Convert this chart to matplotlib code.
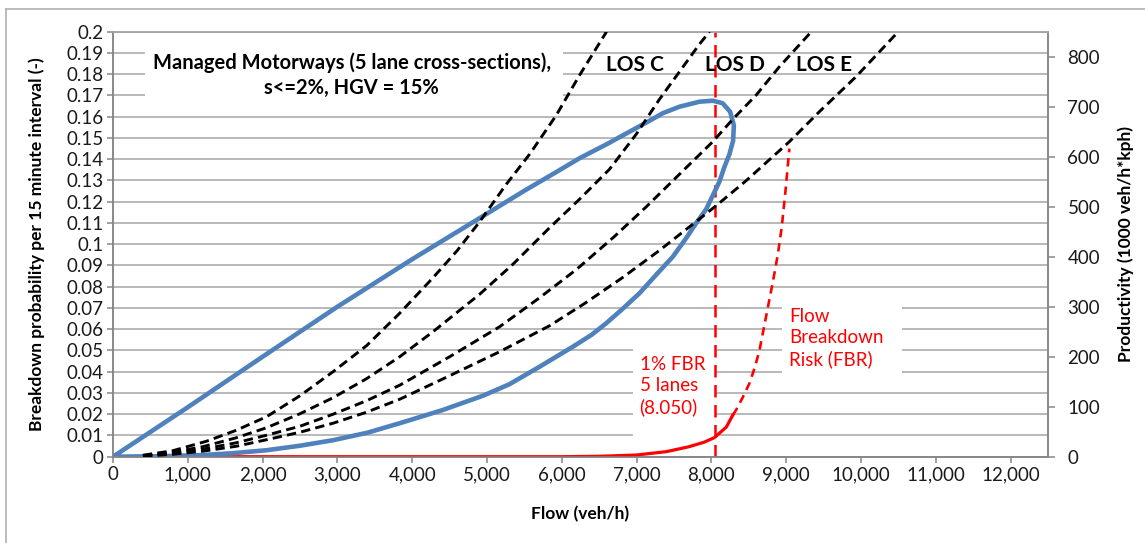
import matplotlib
matplotlib.use('Agg')
import matplotlib.pyplot as plt
from matplotlib.patches import Rectangle
from matplotlib.lines import Line2D

plt.rcParams['font.family'] = ['Lato', 'DejaVu Sans']

# Blue loop: productivity (1000 veh/h*kph) vs flow (veh/h)
loop_flow = [0, 1000, 2000, 3000, 4000, 4900, 5500, 5900, 6237, 6600, 6905, 7150, 7350,
             7573, 7840, 8018, 8150, 8250, 8300, 8290, 8241, 8170, 8107, 7930, 7795,
             7662, 7484, 7250, 7039, 6800, 6594, 6400, 6148, 5703, 5300, 4946, 4400,
             3833, 3400, 2942, 2500, 2053, 1600, 1162, 600, 0]
loop_prod = [0, 99, 200, 300, 395, 477, 532, 567, 597, 625, 650, 670, 687,
             700, 710, 712, 707, 690, 663, 632, 605, 578, 550, 495, 467,
             437, 400, 362, 327, 294, 267, 244, 220, 180, 145, 122, 93,
             67, 48, 33, 22, 13, 7, 3, 1, 0]

# LOS boundary curves (black dashed), productivity vs flow
los1_flow = [400, 800, 1251, 1650, 2053, 2500, 2942, 3389, 3833, 4278, 4600, 4902,
             5258, 5570, 5926, 6237, 6598]
los1_prod = [3, 12, 31, 53, 80, 122, 170, 222, 287, 358, 412, 470,
             545, 605, 683, 763, 850]
los2_flow = [400, 800, 1200, 1650, 2053, 2500, 2942, 3389, 3833, 4278, 4902, 5347,
             5837, 6237, 6638, 6995, 7306, 7573, 7840, 7974]
los2_prod = [2, 9, 20, 38, 58, 86, 118, 156, 200, 250, 325, 385,
             458, 515, 575, 645, 715, 770, 825, 850]
los3_flow = [400, 800, 1200, 1650, 2053, 2500, 2942, 3389, 3833, 4501, 5169, 5703,
             6200, 6700, 7130, 7573, 8018, 8286, 8597, 8909, 9336]
los3_prod = [2, 7, 15, 28, 43, 61, 85, 112, 143, 200, 260, 318,
             375, 440, 500, 565, 630, 675, 723, 780, 850]
los4_flow = [400, 800, 1200, 1650, 2053, 2500, 2942, 3389, 3833, 4501, 5169, 5837,
             6300, 6800, 7300, 7751, 8063, 8464, 9042, 9443, 9933, 10498]
los4_prod = [1, 5, 11, 21, 34, 49, 67, 89, 115, 162, 210, 262,
             306, 357, 412, 465, 502, 552, 630, 690, 760, 850]

# Flow breakdown risk (red), probability per 15 minute interval
fbr_flow = [1100, 2000, 3000, 4000, 5000, 6000, 6500, 7000, 7400, 7700, 7900, 8041, 8200, 8286]
fbr_prob = [0, 0, 0, 0, 0, 0, 0.0002, 0.0008, 0.0024, 0.0047, 0.0068, 0.009, 0.014, 0.0196]
fbr_ext_flow = [8286, 8330, 8420, 8508, 8580, 8642, 8731, 8820, 8887, 8940, 8990, 9042]
fbr_ext_prob = [0.0196, 0.022, 0.028, 0.0345, 0.042, 0.05, 0.066, 0.082, 0.095, 0.108, 0.125, 0.145]
fbr_1pct_flow = 8050

flow_ticks = [0, 1000, 2000, 3000, 4000, 5000, 6000, 7000, 8000, 9000, 10000, 11000, 12000]
flow_labels = ['0', '1,000', '2,000', '3,000', '4,000', '5,000', '6,000', '7,000',
               '8,000', '9,000', '10,000', '11,000', '12,000']
prob_ticks = [0, 0.01, 0.02, 0.03, 0.04, 0.05, 0.06, 0.07, 0.08, 0.09, 0.1,
              0.11, 0.12, 0.13, 0.14, 0.15, 0.16, 0.17, 0.18, 0.19, 0.2]
prob_labels = ['0', '0.01', '0.02', '0.03', '0.04', '0.05', '0.06', '0.07', '0.08', '0.09',
               '0.1', '0.11', '0.12', '0.13', '0.14', '0.15', '0.16', '0.17', '0.18',
               '0.19', '0.2']
prod_ticks = [0, 100, 200, 300, 400, 500, 600, 700, 800]

grid_c = '#a6a6a6'
axis_c = '#868686'
text_c = '#1a1a1a'
blue = '#4f81bd'
red = '#ff0000'

fig = plt.figure(figsize=(11.45, 5.43), dpi=100)
ax = fig.add_axes([0.0987, 0.1589, 0.8166, 0.7827])
ax2 = ax.twinx()

ax.set_xlim(0, 12500)
ax.set_ylim(0, 0.2)
ax2.set_ylim(0, 850)

ax.set_yticks(prob_ticks)
ax.set_yticklabels(prob_labels)
ax.set_xticks(flow_ticks)
ax.set_xticklabels(flow_labels)
ax2.set_yticks(prod_ticks)

ax.grid(axis='y', color=grid_c, linewidth=1.1, zorder=0)
ax.set_axisbelow(True)

for a in (ax, ax2):
    for s in a.spines.values():
        s.set_color(axis_c)
        s.set_linewidth(1.1)
    a.spines['top'].set_color(grid_c)
ax.tick_params(axis='both', direction='out', length=4, color=axis_c, width=1.1,
               labelsize=13.5, labelcolor=text_c, pad=3)
ax2.tick_params(axis='y', direction='out', length=5, color=axis_c, width=1.1,
                labelsize=13.5, labelcolor=text_c, pad=9)

# white boxes behind annotations (hide the gridlines as in the original)
for x0, x1, y0, y1 in [(427, 6010, 0.1655, 0.1948),
                       (6945, 8045, 0.0055, 0.0545),
                       (8949, 10552, 0.0355, 0.0745)]:
    ax.add_patch(Rectangle((x0, y0), x1 - x0, y1 - y0, facecolor='white',
                           edgecolor='none', zorder=1))

# red breakdown risk
ax.plot(fbr_flow, fbr_prob, color=red, linewidth=2.3, zorder=3)
ax.plot(fbr_ext_flow, fbr_ext_prob, color=red, linewidth=1.9, dashes=(3.2, 2.2), zorder=3)
ax.axvline(fbr_1pct_flow, color=red, linewidth=1.8, dashes=(5, 3), zorder=3)

# productivity curves
ax2.plot(loop_flow, loop_prod, color=blue, linewidth=3.3, solid_joinstyle='round', zorder=2)
for fx, fy in [(los1_flow, los1_prod), (los2_flow, los2_prod),
               (los3_flow, los3_prod), (los4_flow, los4_prod)]:
    ax2.plot(fx, fy, color='black', linewidth=2.1, dashes=(3.2, 1.8), zorder=3)

ax.text(3192, 0.1795, 'Managed Motorways (5 lane cross-sections),\ns<=2%, HGV = 15%',
        ha='center', va='center', fontsize=14.5, fontweight='bold', color='black',
        linespacing=1.3, zorder=4)
for lx, lab in [(6972, 'LOS C'), (8308, 'LOS D'), (9510, 'LOS E')]:
    ax.text(lx, 0.1843, lab, ha='center', va='center', fontsize=15,
            fontweight='bold', color='black', zorder=4)
ax.text(7039, 0.0333, '1% FBR\n5 lanes\n(8.050)', ha='left', va='center',
        fontsize=13.5, color=red, linespacing=1.3, zorder=2)
ax.text(9042, 0.0559, 'Flow\nBreakdown\nRisk (FBR)', ha='left', va='center',
        fontsize=13.5, color=red, linespacing=1.3, zorder=2)

ax.set_xlabel('Flow (veh/h)', fontsize=12.5, fontweight='bold', color='black')
ax.set_ylabel('Breakdown probability per 15 minute interval (-)', fontsize=12.5,
              fontweight='bold', color='black')
ax2.set_ylabel('Productivity (1000 veh/h*kph)', fontsize=12.5, fontweight='bold',
               color='black')
ax.xaxis.set_label_coords(0.5, -0.117)
ax.yaxis.set_label_coords(-0.0727, 0.5)
ax2.yaxis.set_label_coords(1.0738, 0.5)

# chart area border (left and top edges visible in the original)
fig.add_artist(Line2D([6 / 1145, 6 / 1145], [0, 1 - 9 / 543], color='#b0b0b0', linewidth=1.2))
fig.add_artist(Line2D([6 / 1145, 1], [1 - 9 / 543, 1 - 9 / 543], color='#b0b0b0', linewidth=1.2))

fig.savefig('out.png', dpi=100)
